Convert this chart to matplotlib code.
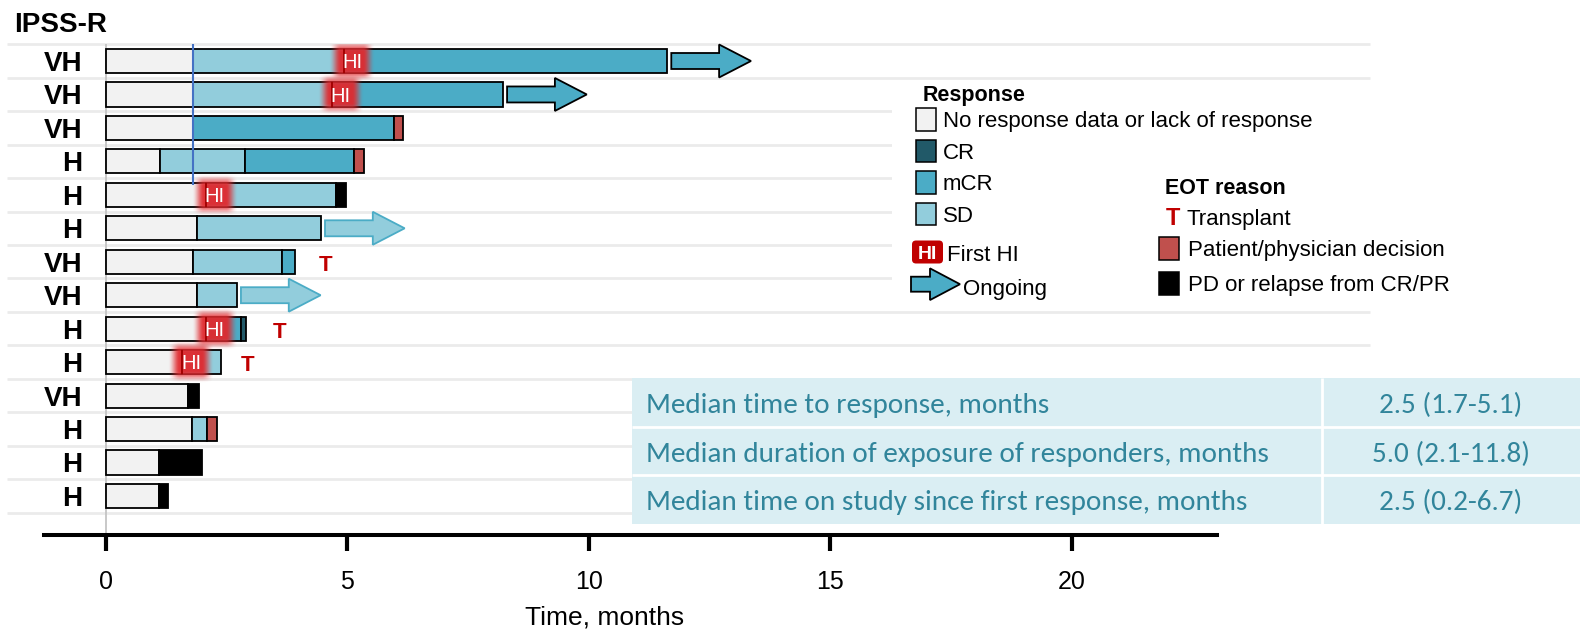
import numpy as np
import matplotlib
matplotlib.use("Agg")
import matplotlib.pyplot as plt
from matplotlib import font_manager
from matplotlib.patches import Rectangle, FancyArrow, FancyBboxPatch

plt.rcParams['font.family'] = ['Liberation Sans', 'DejaVu Sans']

nan = np.nan

# ---- data -------------------------------------------------------------
risk_labels = ['VH', 'VH', 'VH', 'H', 'H', 'H', 'VH', 'VH', 'H', 'H', 'VH', 'H', 'H', 'H']

# months spent in each state, stacked left to right per patient
no_response = [1.80, 1.80, 1.80, 1.12, 2.08, 1.88, 1.81, 1.88, 2.08, 1.59, 1.71, 1.78, 1.10, 1.10]
sd_months = [3.13, 2.89, 0.00, 1.76, 2.68, 2.58, 1.85, 0.84, 0.00, 0.79, 0.00, 0.31, 0.00, 0.00]
mcr_months = [6.70, 3.54, 4.16, 2.27, 0.00, 0.00, 0.25, 0.00, 0.72, 0.00, 0.00, 0.00, 0.00, 0.00]
cr_months = [0.00, 0.00, 0.00, 0.00, 0.00, 0.00, 0.00, 0.00, 0.11, 0.00, 0.00, 0.00, 0.00, 0.00]
eot_decision = [0.00, 0.00, 0.20, 0.20, 0.00, 0.00, 0.00, 0.00, 0.00, 0.00, 0.00, 0.21, 0.00, 0.00]
eot_pd = [0.00, 0.00, 0.00, 0.00, 0.21, 0.00, 0.00, 0.00, 0.00, 0.00, 0.22, 0.00, 0.90, 0.19]

first_hi = [4.93, 4.69, nan, nan, 2.08, nan, nan, nan, 2.08, 1.59, nan, nan, nan, nan]
ongoing = [True, True, False, False, False, True, False, True, False, False, False, False, False, False]
transplant_at = [nan, nan, nan, nan, nan, nan, 4.56, nan, 3.59, 2.94, nan, nan, nan, nan]
reference_month = 1.80

x_ticks = [0, 5, 10, 15, 20]

response_labels = ['No response data or lack of response', 'CR', 'mCR', 'SD']
eot_labels = ['Transplant', 'Patient/physician decision', 'PD or relapse from CR/PR']

summary_labels = ['Median time to response, months',
                  'Median duration of exposure of responders, months',
                  'Median time on study since first response, months']
summary_values = ['2.5 (1.7-5.1)', '5.0 (2.1-11.8)', '2.5 (0.2-6.7)']

# ---- style ------------------------------------------------------------
C_NONE = '#f2f2f2'
C_SD = '#92cddc'
C_MCR = '#4bacc6'
C_CR = '#215968'
C_DEC = '#c0504d'
C_PD = '#000000'
C_RED = '#c00000'
C_GRID = '#ebebeb'
C_TAB_BG = '#daeef3'
C_TAB_TXT = '#31859b'

names = {f.name for f in font_manager.fontManager.ttflist}
table_font = 'Carlito' if 'Carlito' in names else 'Lato'

W, H = 1580, 632
fig = plt.figure(figsize=(W / 100, H / 100), dpi=100)

# pixel geometry of the swimmer panel
X0 = 105.7   # pixel column of month 0
PXM = 48.3   # pixels per month
Y0 = 61.0    # pixel centre of the first row
PXR = 33.46  # pixels per row
ax_left, ax_right, ax_bottom = 44, 1217, 534.7
ax_top = Y0 - 0.5 * PXR


def px_to_month(px):
    return (px - X0) / PXM


def px_to_row(py):
    return (py - Y0) / PXR


def cap_shift(size):
    # offset (in rows) from cap-centre to baseline for a font size in pt
    return 0.358 * size * 100 / 72 / PXR


ax = fig.add_axes([ax_left / W, 1 - ax_bottom / H,
                   (ax_right - ax_left) / W, (ax_bottom - ax_top) / H])

n = len(risk_labels)
rows = np.arange(n)

# row separators
ax.hlines(np.arange(-0.5, n), px_to_month(7), px_to_month(1370),
          colors=C_GRID, lw=2.0, zorder=0, clip_on=False)
ax.axvline(0, color='#c4c4c4', lw=1.3, zorder=1)

# stacked state bars
left = np.zeros(n)
for vals, col in [(no_response, C_NONE), (sd_months, C_SD), (mcr_months, C_MCR),
                  (cr_months, C_CR), (eot_decision, C_DEC), (eot_pd, C_PD)]:
    vals = np.asarray(vals, float)
    m = vals > 0
    ax.barh(rows[m], vals[m], left=left[m], height=0.72, color=col,
            edgecolor='black', linewidth=1.3, zorder=3)
    left = left + vals
bar_end = left

# ongoing arrows
for i in range(n):
    if ongoing[i]:
        resp_mcr = mcr_months[i] > 0
        fc = C_MCR if resp_mcr else C_SD
        ec = 'black' if resp_mcr else C_MCR
        ax.add_patch(FancyArrow(bar_end[i] + 0.08, i, 1.65, 0, width=0.478,
                                head_width=0.986, head_length=0.66,
                                length_includes_head=True, fc=fc, ec=ec,
                                lw=1.3, zorder=3, clip_on=False))

# transplant markers
for i in range(n):
    if not np.isnan(transplant_at[i]):
        ax.text(transplant_at[i], i + cap_shift(16) + 0.04, 'T', color=C_RED,
                fontsize=16, fontweight='bold', ha='center', va='baseline', zorder=6)


# first haematological improvement: soft red badge
def glow_rgba(w=46, h=42, fade=12.0, color=(0.88, 0.16, 0.18), amax=0.95, k=4):
    xs = np.linspace(-w / 2, w / 2, w * k)
    ys = np.linspace(-h / 2, h / 2, h * k)
    sx = np.clip((w / 2 - np.abs(xs)) / fade, 0, 1)
    sy = np.clip((h / 2 - np.abs(ys)) / fade, 0, 1)
    smooth = lambda t: t * t * (3 - 2 * t)
    img = np.zeros((len(ys), len(xs), 4))
    img[..., :3] = color
    img[..., 3] = np.outer(smooth(sy), smooth(sx)) * amax
    return img


glow = glow_rgba()
for i in range(n):
    t = first_hi[i]
    if np.isnan(t):
        continue
    cx = t + 8.5 / PXM
    ax.imshow(glow, extent=(cx - 23 / PXM, cx + 23 / PXM, i + 21 / PXR, i - 21 / PXR),
              aspect='auto', interpolation='bilinear', zorder=4)
    ax.vlines(t, i - 0.36, i + 0.36, color='#a00000', lw=1.3, zorder=5)
    ax.text(cx, i + cap_shift(14.5), 'HI', color='white', fontsize=14.5,
            ha='center', va='baseline', zorder=6)

# reference line
ax.vlines(reference_month, -0.53, px_to_row(185), color='#4472c4', lw=1.5, zorder=5)

# risk group labels
for i, lab in enumerate(risk_labels):
    ax.text(px_to_month(82), i + cap_shift(20), lab, ha='right', va='baseline',
            fontsize=20, fontweight='bold', clip_on=False)

for s in ['left', 'top', 'right']:
    ax.spines[s].set_visible(False)
ax.spines['bottom'].set_linewidth(2.9)
ax.set_yticks([])
ax.set_xticks(x_ticks)
ax.set_xticklabels([str(v) for v in x_ticks])
ax.tick_params(axis='x', length=11.5, width=3, pad=14, labelsize=18, colors='black')
ax.set_xlim(px_to_month(ax_left), px_to_month(ax_right))
ax.set_ylim(px_to_row(ax_bottom), -0.5)

# ---- overlay in pixel coordinates: title, legend, table ---------------
ov = fig.add_axes([0, 0, 1, 1], zorder=5)
ov.set_xlim(0, W)
ov.set_ylim(H, 0)
ov.axis('off')


def ctext(x, cy, s, size, **kw):
    ov.text(x, cy + 0.358 * size * 100 / 72, s, fontsize=size, va='baseline', **kw)


ov.text(14, 32, 'IPSS-R', fontsize=20, fontweight='bold', va='baseline')
ov.text(604.5, 624, 'Time, months', fontsize=19, ha='center', va='baseline')

# legend
ov.add_patch(Rectangle((892, 84), 486, 218, fc='white', ec='none'))
ctext(923, 93, 'Response', 15.5, fontweight='bold')
resp_colors = [C_NONE, C_CR, C_MCR, C_SD]
for k, (lab, col) in enumerate(zip(response_labels, resp_colors)):
    cy = 119.5 + 31.4 * k
    ov.add_patch(Rectangle((916, cy - 11.2), 20, 22.4, fc=col, ec='black', lw=1.1))
    ctext(943, cy, lab, 16)

ov.add_patch(FancyBboxPatch((913.5, 242), 28, 20, boxstyle='round,pad=1.5,rounding_size=4',
                            fc=C_RED, ec='none'))
ctext(927.3, 252, 'HI', 14, color='white', fontweight='bold', ha='center')
ctext(946.7, 253, 'First HI', 16)
ov.add_patch(FancyArrow(911, 284.2, 49, 0, width=15, head_width=31.7, head_length=30,
                        length_includes_head=True, fc=C_MCR, ec='black', lw=1.3))
ctext(963.3, 287, 'Ongoing', 16)

ctext(1165, 186, 'EOT reason', 15.5, fontweight='bold')
ctext(1172.5, 216.7, 'T', 17, color=C_RED, fontweight='bold', ha='center')
ctext(1186.7, 216.7, eot_labels[0], 16)
for k, col in enumerate([C_DEC, C_PD]):
    cy = 248.3 + 34.8 * k
    ov.add_patch(Rectangle((1159.3, cy - 11.4), 20, 22.8, fc=col, ec='black', lw=1.1))
    ctext(1188, cy, eot_labels[k + 1], 16)

# summary table
tab_l, tab_t, tab_b, col_split = 632, 378.3, 524, 1322
ov.add_patch(Rectangle((tab_l, tab_t), W - tab_l, tab_b - tab_t, fc=C_TAB_BG, ec='none'))
row_h = (tab_b - tab_t) / 3
for k in (1, 2):
    ov.plot([tab_l, W], [tab_t + k * row_h] * 2, color='white', lw=2.0, solid_capstyle='butt')
ov.plot([col_split, col_split], [tab_t, tab_b], color='white', lw=2.0, solid_capstyle='butt')
for k, (lab, val) in enumerate(zip(summary_labels, summary_values)):
    cy = tab_t + (k + 0.5) * row_h
    ctext(646, cy, lab, 21, color=C_TAB_TXT, family=table_font)
    ctext((col_split + W) / 2, cy, val, 21, color=C_TAB_TXT, family=table_font, ha='center')

fig.savefig('out.png', dpi=100)
